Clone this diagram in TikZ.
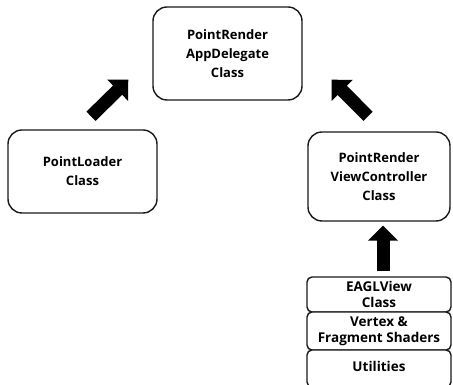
\documentclass[tikz,border=0pt]{standalone}
\usepackage{fontspec}
\setmainfont{Open Sans}[BoldFont={Open Sans Bold}]
\usetikzlibrary{arrows.meta}
\begin{document}
\begin{tikzpicture}[x=1pt,y=1pt,
  classbox/.style={draw=black!90, line width=1.4pt, rounded corners=14pt, fill=white,
    align=center, font=\bfseries\fontsize{13}{19}\selectfont, inner sep=0pt},
  layerbox/.style={draw=black!90, line width=1.4pt, rounded corners=5pt, fill=white,
    align=center, font=\bfseries\fontsize{13.5}{15.5}\selectfont, inner sep=0pt,
    minimum width=144pt},
  bigarrow/.style={line width=13pt, -{Triangle[width=29pt,length=15pt]}}
]
\clip (0,0) rectangle (453,385);
\fill[white] (0,0) rectangle (453,385);

% class boxes
\node[classbox, minimum width=149pt, minimum height=93pt] (app) at (227.5,331.5)
  {PointRender\\AppDelegate\\Class};
\node[classbox, minimum width=149pt, minimum height=83pt] (loader) at (82.5,213.5)
  {PointLoader\\Class};
\node[classbox, minimum width=142pt, minimum height=89pt] (view) at (379,208.5)
  {PointRender\\ViewController\\Class};

% layered stack under the view controller
\node[layerbox, minimum height=35pt] (eagl) at (379,90.5) {EAGLView\\Class};
\node[layerbox, minimum height=38pt] (shaders) at (379,54) {Vertex \&\\Fragment Shaders};
\node[layerbox, minimum height=37pt] (utils) at (379,16.5) {};
\node[font=\bfseries\fontsize{13.5}{15.5}\selectfont, inner sep=0pt] (utilstext) at (379,18.5) {Utilities};

% dependency arrows
\draw[bigarrow] ([shift={(8.5,13)}]loader.north) -- ([shift={(-24,21)}]app.south west);
\draw[bigarrow] ([shift={(-11,15)}]view.north) -- ([shift={(29,21)}]app.south east);
\draw[bigarrow] ([shift={(4,5)}]eagl.north) -- ([shift={(4,-4)}]view.south);
\end{tikzpicture}
\end{document}
